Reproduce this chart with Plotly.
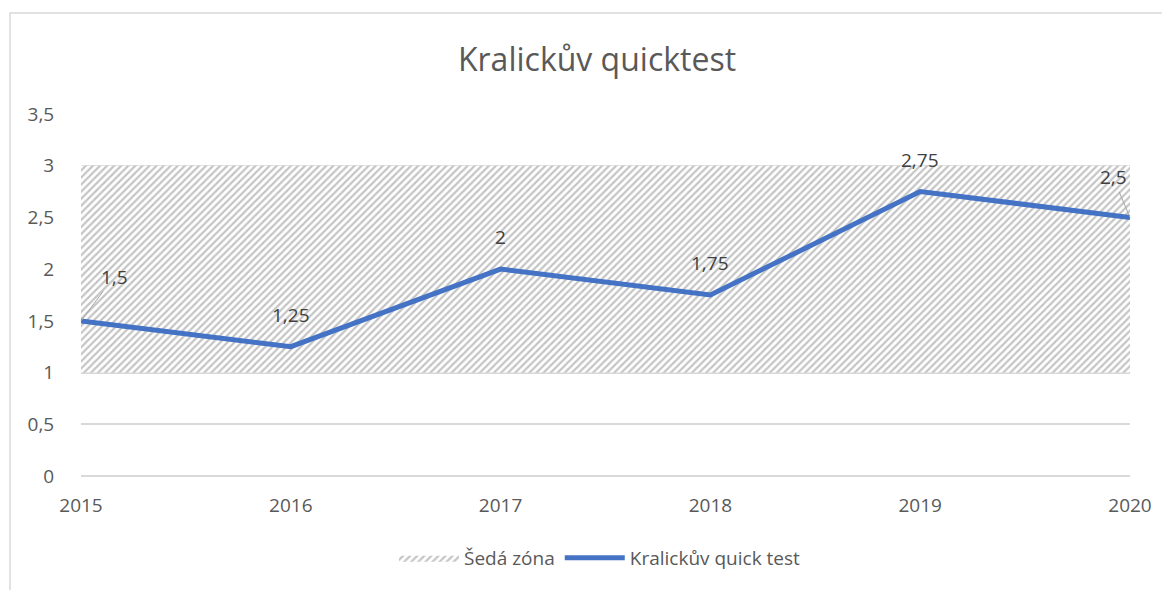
import plotly.graph_objects as go

years = [2015, 2016, 2017, 2018, 2019, 2020]
scores = [1.5, 1.25, 2.0, 1.75, 2.75, 2.5]
zone_low = [1, 1, 1, 1, 1, 1]
zone_high = [3, 3, 3, 3, 3, 3]
y_ticks = [0, 0.5, 1, 1.5, 2, 2.5, 3, 3.5]
y_tick_labels = ["0", "0,5", "1", "1,5", "2", "2,5", "3", "3,5"]

FONT = "Open Sans"
GREY = "#595959"

# page has an 8px body margin; plot area should land at x 81-1130, y 114-476 on screen
L, R, T, B = 73, 48, 106, 122
PW = 1170 - L - R
PH = 590 - T - B

fig = go.Figure()
fig.add_trace(go.Scatter(
    x=years, y=zone_low, mode="lines", line=dict(width=0, color="rgba(0,0,0,0)"),
    showlegend=False, hoverinfo="skip"))
fig.add_trace(go.Scatter(
    x=years, y=zone_high, mode="lines", line=dict(width=0, color="rgba(0,0,0,0)"),
    fill="tonexty", fillcolor="white",
    fillpattern=dict(shape="/", fgcolor="#8a8a8a", bgcolor="white", size=5, solidity=0.45),
    name="Šedá zóna"))
fig.add_trace(go.Scatter(
    x=years, y=scores, mode="lines", line=dict(width=5, color="#4472C4"),
    name="Kralickův quick test"))

def fmt(v):
    return ("%g" % v).replace(".", ",")

for i, (x, y) in enumerate(zip(years, scores)):
    if i == 0:
        fig.add_annotation(x=x, y=y, text=fmt(y), showarrow=True, arrowhead=0,
                           arrowwidth=1, arrowcolor="#a6a6a6", ax=33, ay=-44,
                           font=dict(family=FONT, size=19, color="#404040"))
    elif i == len(years) - 1:
        fig.add_annotation(x=x, y=y, text=fmt(y), showarrow=True, arrowhead=0,
                           arrowwidth=1, arrowcolor="#a6a6a6", ax=-17, ay=-40,
                           font=dict(family=FONT, size=19, color="#404040"))
    else:
        fig.add_annotation(x=x, y=y, text=fmt(y), showarrow=False, yshift=32,
                           font=dict(family=FONT, size=19, color="#404040"))

fig.add_shape(type="rect", xref="paper", yref="paper",
              x0=(2 - L) / PW, x1=(1160 - L) / PW,
              y0=(T + PH - 640) / PH, y1=(T + PH - 5) / PH,
              line=dict(color="#d9d9d9", width=1.5), fillcolor="rgba(0,0,0,0)", layer="below")

fig.update_layout(
    width=1170, height=590,
    margin=dict(l=L, r=R, t=T, b=B),
    paper_bgcolor="white", plot_bgcolor="white",
    title=dict(text="Kralickův quicktest", x=(597 - 8) / 1170, xanchor="center",
               y=1 - 52 / 590, yanchor="middle",
               font=dict(family=FONT, size=32, color=GREY)),
    font=dict(family=FONT, size=19, color=GREY),
    showlegend=True,
    legend=dict(orientation="h", x=(600 - 8 - L) / PW, xanchor="center",
                y=(T + PH - 550) / PH, yanchor="middle", traceorder="normal",
                font=dict(family=FONT, size=19, color=GREY), itemwidth=60, tracegroupgap=0),
    xaxis=dict(range=[2015, 2020], tickvals=years, ticktext=[str(y) for y in years],
               showgrid=False, zeroline=False, showline=False,
               ticks="outside", ticklen=12, tickcolor="rgba(0,0,0,0)",
               tickfont=dict(family=FONT, size=19, color=GREY)),
    yaxis=dict(range=[0, 3.5], tickvals=y_ticks, ticktext=y_tick_labels,
               showgrid=True, gridcolor="#d9d9d9", gridwidth=2, zeroline=True,
               zerolinecolor="#d9d9d9", zerolinewidth=2, showline=False,
               ticks="outside", ticklen=22, tickcolor="rgba(0,0,0,0)",
               tickfont=dict(family=FONT, size=19, color=GREY)),
)

fig.write_html("out.html")
